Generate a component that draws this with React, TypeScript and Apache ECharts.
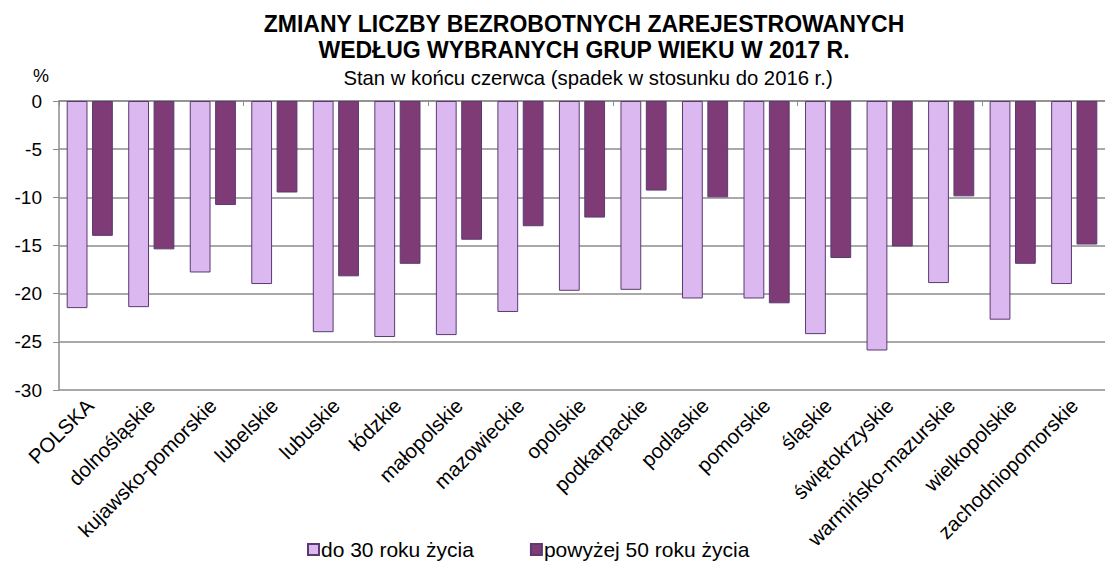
import React, { useEffect, useRef } from "react";
import * as echarts from "echarts";

const categories = [
  "POLSKA",
  "dolnośląskie",
  "kujawsko-pomorskie",
  "lubelskie",
  "lubuskie",
  "łódzkie",
  "małopolskie",
  "mazowieckie",
  "opolskie",
  "podkarpackie",
  "podlaskie",
  "pomorskie",
  "śląskie",
  "świętokrzyskie",
  "warmińsko-mazurskie",
  "wielkopolskie",
  "zachodniopomorskie",
];

const under30 = [
  -21.5, -21.4, -17.8, -19.0, -24.0, -24.5, -24.3, -21.9, -19.7, -19.6, -20.5,
  -20.5, -24.2, -25.9, -18.9, -22.7, -19.0,
];

const over50 = [
  -14.0, -15.4, -10.8, -9.5, -18.2, -16.9, -14.4, -13.0, -12.1, -9.3, -10.0,
  -21.0, -16.3, -15.1, -9.9, -16.9, -14.9,
];

const seriesNames = ["do 30 roku życia", "powyżej 50 roku życia"];
const titleLines = [
  "ZMIANY LICZBY BEZROBOTNYCH ZAREJESTROWANYCH",
  "WEDŁUG WYBRANYCH GRUP WIEKU W 2017 R.",
];
const subtitle = "Stan w końcu czerwca (spadek w stosunku do 2016 r.)";
const unitLabel = "%";

const FONT = "'Liberation Sans', Arial, sans-serif";
const GRAY = "#8c8c8c";

export default function App() {
  const ref = useRef<HTMLDivElement>(null);

  useEffect(() => {
    if (!ref.current) return;
    const chart = echarts.init(ref.current, undefined, { renderer: "svg" });
    chart.setOption({
      animation: false,
      textStyle: { fontFamily: FONT, color: "#000" },
      title: [
        {
          text: titleLines.join("\n"),
          left: 579,
          textAlign: "center",
          top: 6,
          textStyle: {
            fontFamily: FONT,
            fontSize: 23,
            fontWeight: "bold",
            color: "#000",
            lineHeight: 26,
          },
        },
        {
          text: subtitle,
          left: 583,
          textAlign: "center",
          top: 63,
          textStyle: {
            fontFamily: FONT,
            fontSize: 20.3,
            fontWeight: "normal",
            color: "#000",
          },
        },
      ],
      graphic: [
        {
          type: "text",
          left: 33,
          top: 67,
          style: { text: unitLabel, font: `18px ${FONT}`, fill: "#000" },
        },
      ],
      legend: {
        bottom: 0,
        left: 302,
        itemWidth: 11,
        itemHeight: 11,
        itemGap: 56,
        icon: "rect",
        textStyle: { fontFamily: FONT, fontSize: 21, color: "#000", padding: [0, 0, 0, -3] },
        data: seriesNames,
      },
      grid: { left: 59, top: 101, width: 17 * 62.3, height: 289 },
      xAxis: [
        {
          type: "category",
          data: categories,
          position: "bottom",
          axisLine: { show: false },
          axisTick: { show: false },
          axisLabel: {
            interval: 0,
            rotate: 45,
            fontSize: 20.5,
            fontFamily: FONT,
            color: "#000",
            margin: 12,
          },
        },
        {
          type: "category",
          data: categories,
          position: "top",
          axisLine: { show: true, onZero: false, lineStyle: { color: GRAY, width: 1.5 } },
          axisTick: { show: true, inside: true, length: 5, lineStyle: { color: GRAY } },
          axisLabel: { show: false },
        },
      ],
      yAxis: {
        type: "value",
        min: -30,
        max: 0,
        interval: 5,
        axisLine: { show: true, lineStyle: { color: GRAY, width: 1.5 } },
        axisTick: { show: true, length: 6, lineStyle: { color: GRAY } },
        axisLabel: { fontSize: 19, fontFamily: FONT, color: "#000", margin: 17 },
        splitLine: { show: true, lineStyle: { color: GRAY, width: 1.5 } },
      },
      series: [
        {
          name: seriesNames[0],
          type: "bar",
          data: under30,
          barGap: "22%",
          barCategoryGap: "25%",
          itemStyle: { color: "#dcb8f0", borderColor: "#5a3a70", borderWidth: 1 },
        },
        {
          name: seriesNames[1],
          type: "bar",
          data: over50,
          itemStyle: { color: "#7e3b76", borderColor: "#5a3a70", borderWidth: 1 },
        },
      ],
    });
    return () => chart.dispose();
  }, []);

  return (
    <div
      ref={ref}
      style={{ position: "absolute", left: 0, top: 0, width: 1105, height: 565, overflow: "hidden" }}
    />
  );
}
